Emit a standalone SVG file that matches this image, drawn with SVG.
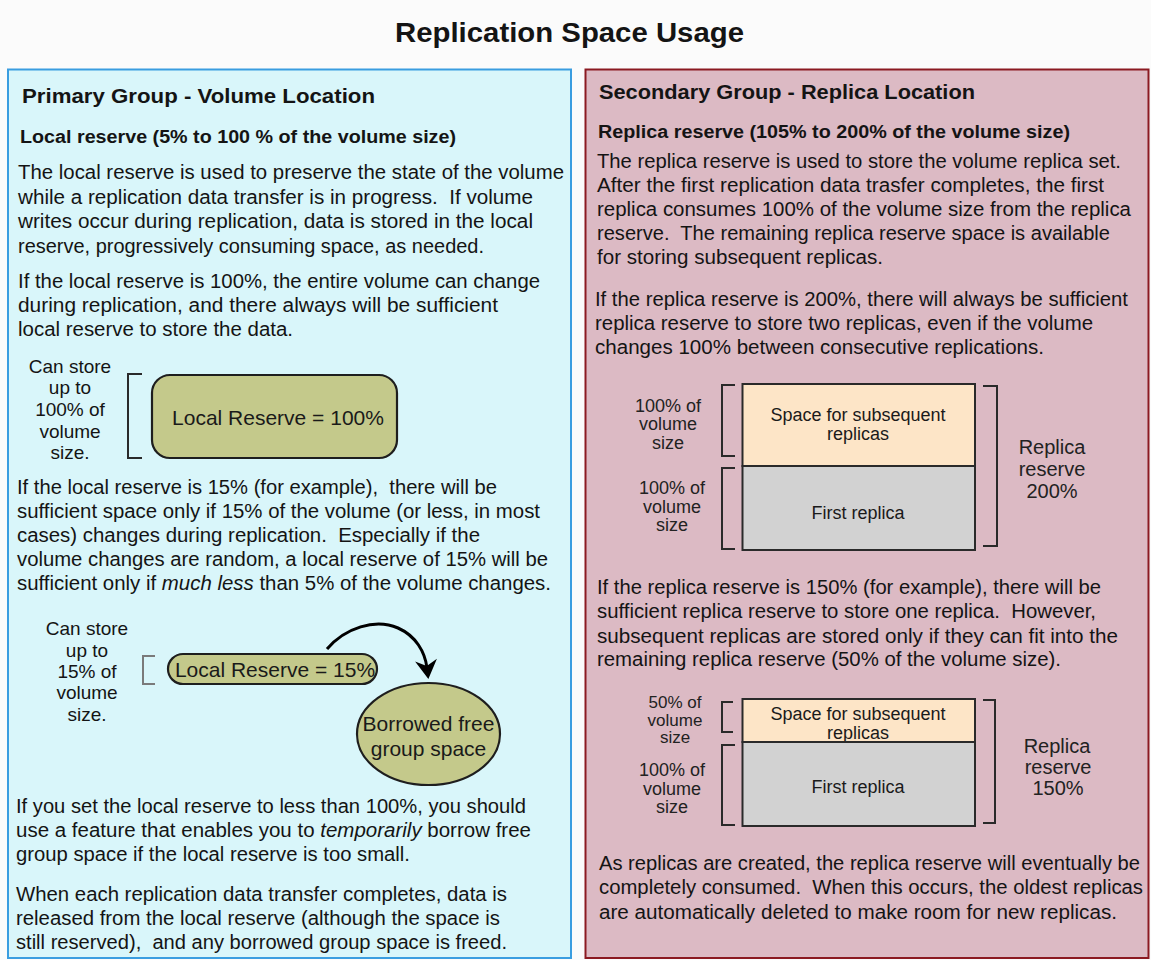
<svg xmlns="http://www.w3.org/2000/svg" width="1151" height="960" viewBox="0 0 1151 960">
<style>
text { font-family: "Liberation Sans", Arial, sans-serif; fill: #141414; }
.title { font-size: 28px; font-weight: bold; text-anchor: middle; }
.h1 { font-size: 21px; font-weight: bold; }
.h2 { font-size: 18px; font-weight: bold; }
.body { font-size: 20px; }
.lbl { font-size: 19px; text-anchor: middle; }
.dlbl { font-size: 18px; text-anchor: middle; fill: #222; }
.slbl { font-size: 17px; text-anchor: middle; fill: #222; }
.rlbl { font-size: 20px; text-anchor: middle; fill: #222; }
.ntext { font-size: 21px; text-anchor: middle; fill: #1a1a1a; }
.btext { font-size: 18px; text-anchor: middle; fill: #1a1a1a; }
.olive { fill: #c4c98b; stroke: #1e1e1e; stroke-width: 2.2; }
.peach { fill: #fde5c7; stroke: #2a2a2a; stroke-width: 2; }
.grey { fill: #d2d2d2; stroke: #2a2a2a; stroke-width: 2; }
.brk { fill: none; stroke: #2a2a2a; stroke-width: 2; }
.brk-light { fill: none; stroke: #7a7a7a; stroke-width: 2; }
.conn { fill: none; stroke: #000; stroke-width: 3; }
</style>
<defs>
<marker id="arrowhead" markerUnits="userSpaceOnUse" viewBox="-20 -12 21 24" markerWidth="21" markerHeight="24" refX="-11" refY="0" orient="auto">
<path d="M0,0 L-19,-11 L-13,0 L-19,11 Z" fill="#000"/>
</marker>
</defs>
<rect x="0" y="0" width="1151" height="960" fill="#fbfbfb"/>
<g id="title">
<text class="title" x="569.5" y="42" textLength="349" lengthAdjust="spacingAndGlyphs">Replication Space Usage</text>
</g>

<g id="panel-primary">
<rect x="8" y="69.5" width="563" height="888.5" fill="#d9f6fa" stroke="#3a9de0" stroke-width="2"/>
<text class="h1" x="22" y="103" textLength="353" lengthAdjust="spacingAndGlyphs">Primary Group - Volume Location</text>
<text class="h2" x="20" y="143" textLength="436" lengthAdjust="spacingAndGlyphs">Local reserve (5% to 100 % of the volume size)</text>
<g class="body">
<text x="18" y="179" textLength="546" lengthAdjust="spacingAndGlyphs">The local reserve is used to preserve the state of the volume</text>
<text x="18" y="203.5" textLength="515" lengthAdjust="spacingAndGlyphs">while a replication data transfer is in progress.&#160; If volume</text>
<text x="18" y="228" textLength="515" lengthAdjust="spacingAndGlyphs">writes occur during replication, data is stored in the local</text>
<text x="18" y="252.5" textLength="466" lengthAdjust="spacingAndGlyphs">reserve, progressively consuming space, as needed.</text>
<text x="18" y="288" textLength="522" lengthAdjust="spacingAndGlyphs">If the local reserve is 100%, the entire volume can change</text>
<text x="18" y="312" textLength="480" lengthAdjust="spacingAndGlyphs">during replication, and there always will be sufficient</text>
<text x="18" y="336" textLength="275" lengthAdjust="spacingAndGlyphs">local reserve to store the data.</text>
<text x="17" y="494" textLength="480" lengthAdjust="spacingAndGlyphs">If the local reserve is 15% (for example),&#160; there will be</text>
<text x="17" y="518" textLength="523" lengthAdjust="spacingAndGlyphs">sufficient space only if 15% of the volume (or less, in most</text>
<text x="17" y="542" textLength="463" lengthAdjust="spacingAndGlyphs">cases) changes during replication.&#160; Especially if the</text>
<text x="17" y="566" textLength="531" lengthAdjust="spacingAndGlyphs">volume changes are random, a local reserve of 15% will be</text>
<text x="17" y="590" textLength="534" lengthAdjust="spacingAndGlyphs">sufficient only if <tspan font-style="italic">much less</tspan> than 5% of the volume changes.</text>
<text x="16" y="813" textLength="510" lengthAdjust="spacingAndGlyphs">If you set the local reserve to less than 100%, you should</text>
<text x="16" y="837" textLength="515" lengthAdjust="spacingAndGlyphs">use a feature that enables you to <tspan font-style="italic">temporarily</tspan> borrow free</text>
<text x="16" y="861" textLength="394" lengthAdjust="spacingAndGlyphs">group space if the local reserve is too small.</text>
<text x="16" y="901" textLength="491" lengthAdjust="spacingAndGlyphs">When each replication data transfer completes, data is</text>
<text x="16" y="925" textLength="484" lengthAdjust="spacingAndGlyphs">released from the local reserve (although the space is</text>
<text x="16" y="949" textLength="491" lengthAdjust="spacingAndGlyphs">still reserved),&#160; and any borrowed group space is freed.</text>
</g>
</g>

<g id="label-store-100">
<text class="lbl"><tspan x="70" y="373">Can store</tspan><tspan x="70" y="394">up to</tspan><tspan x="70" y="416">100% of</tspan><tspan x="70" y="438">volume</tspan><tspan x="70" y="459">size.</tspan></text>
<path class="brk" d="M142,374 H128 V458 H142"/>
</g>
<g id="node-local-reserve-100">
<rect class="olive" x="152" y="375" width="245" height="83" rx="18" ry="18"/>
<text class="ntext" x="278" y="425">Local Reserve = 100%</text>
</g>

<g id="label-store-15">
<text class="lbl"><tspan x="87" y="635">Can store</tspan><tspan x="87" y="657">up to</tspan><tspan x="87" y="678">15% of</tspan><tspan x="87" y="699">volume</tspan><tspan x="87" y="721">size.</tspan></text>
<path class="brk-light" d="M155,656 H143 V684 H155"/>
</g>
<g id="node-local-reserve-15">
<rect class="olive" x="168" y="654" width="209" height="30" rx="15" ry="15"/>
<text class="ntext" x="275" y="677" font-size="20">Local Reserve = 15%</text>
</g>
<g id="node-borrowed">
<ellipse class="olive" cx="428.5" cy="734" rx="71.5" ry="51"/>
<text class="ntext" font-size="20"><tspan x="428.5" y="731">Borrowed free</tspan><tspan x="428.5" y="756">group space</tspan></text>
</g>

<g id="connectors">
<path class="conn" d="M327,649 C345,628 375,618 398,628 C416,636 425,652 427,668" marker-end="url(#arrowhead)"/>
</g>

<g id="panel-secondary">
<rect x="585.5" y="69.5" width="563" height="888.5" fill="#dcbac4" stroke="#8b1a22" stroke-width="2"/>
<text class="h1" x="599" y="99" textLength="376" lengthAdjust="spacingAndGlyphs">Secondary Group - Replica Location</text>
<text class="h2" x="598" y="138" textLength="472" lengthAdjust="spacingAndGlyphs">Replica reserve (105% to 200% of the volume size)</text>
<g class="body">
<text x="597" y="168" textLength="524" lengthAdjust="spacingAndGlyphs">The replica reserve is used to store the volume replica set.</text>
<text x="597" y="192" textLength="507" lengthAdjust="spacingAndGlyphs">After the first replication data trasfer completes, the first</text>
<text x="597" y="216" textLength="534" lengthAdjust="spacingAndGlyphs">replica consumes 100% of the volume size from the replica</text>
<text x="597" y="240" textLength="513" lengthAdjust="spacingAndGlyphs">reserve.&#160; The remaining replica reserve space is available</text>
<text x="597" y="264" textLength="286" lengthAdjust="spacingAndGlyphs">for storing subsequent replicas.</text>
<text x="595" y="306" textLength="533" lengthAdjust="spacingAndGlyphs">If the replica reserve is 200%, there will always be sufficient</text>
<text x="595" y="330" textLength="498" lengthAdjust="spacingAndGlyphs">replica reserve to store two replicas, even if the volume</text>
<text x="595" y="354" textLength="449" lengthAdjust="spacingAndGlyphs">changes 100% between consecutive replications.</text>
<text x="597" y="594" textLength="504" lengthAdjust="spacingAndGlyphs">If the replica reserve is 150% (for example), there will be</text>
<text x="597" y="618" textLength="499" lengthAdjust="spacingAndGlyphs">sufficient replica reserve to store one replica.&#160; However,</text>
<text x="597" y="643" textLength="521" lengthAdjust="spacingAndGlyphs">subsequent replicas are stored only if they can fit into the</text>
<text x="597" y="666" textLength="464" lengthAdjust="spacingAndGlyphs">remaining replica reserve (50% of the volume size).</text>
<text x="599" y="870" textLength="541" lengthAdjust="spacingAndGlyphs">As replicas are created, the replica reserve will eventually be</text>
<text x="599" y="894" textLength="544" lengthAdjust="spacingAndGlyphs">completely consumed.&#160; When this occurs, the oldest replicas</text>
<text x="599" y="919" textLength="518" lengthAdjust="spacingAndGlyphs">are automatically deleted to make room for new replicas.</text>
</g>
</g>

<g id="reserve-200">
<g id="node-space-200">
<rect class="peach" x="742.5" y="384" width="232.5" height="82"/>
<text class="btext"><tspan x="858" y="421">Space for subsequent</tspan><tspan x="858" y="440">replicas</tspan></text>
</g>
<g id="node-first-200">
<rect class="grey" x="742.5" y="466" width="232.5" height="84"/>
<text class="btext" x="858" y="519">First replica</text>
</g>
<text class="dlbl"><tspan x="668" y="412">100% of</tspan><tspan x="668" y="430">volume</tspan><tspan x="668" y="449">size</tspan></text>
<text class="dlbl"><tspan x="672" y="494">100% of</tspan><tspan x="672" y="513">volume</tspan><tspan x="672" y="531">size</tspan></text>
<path class="brk" d="M735,385 H722 V456 H735"/>
<path class="brk" d="M735,468 H722 V549 H735"/>
<path class="brk" d="M983,386 H997 V546 H983"/>
<text class="rlbl"><tspan x="1052" y="454">Replica</tspan><tspan x="1052" y="476">reserve</tspan><tspan x="1052" y="498">200%</tspan></text>
</g>

<g id="reserve-150">
<g id="node-space-150">
<rect class="peach" x="742.5" y="699" width="232.5" height="43"/>
<text class="btext"><tspan x="858" y="720">Space for subsequent</tspan><tspan x="858" y="739">replicas</tspan></text>
</g>
<g id="node-first-150">
<rect class="grey" x="742.5" y="742" width="232.5" height="84"/>
<text class="btext" x="858" y="793">First replica</text>
</g>
<text class="slbl"><tspan x="675" y="708">50% of</tspan><tspan x="675" y="726">volume</tspan><tspan x="675" y="743">size</tspan></text>
<text class="dlbl"><tspan x="672" y="776">100% of</tspan><tspan x="672" y="795">volume</tspan><tspan x="672" y="813">size</tspan></text>
<path class="brk" d="M733,702 H722 V732 H733"/>
<path class="brk" d="M735,745 H722 V825 H735"/>
<path class="brk" d="M983,700 H995 V823 H983"/>
<text class="rlbl"><tspan x="1057" y="753">Replica</tspan><tspan x="1058" y="774">reserve</tspan><tspan x="1058" y="795">150%</tspan></text>
</g>
</svg>
